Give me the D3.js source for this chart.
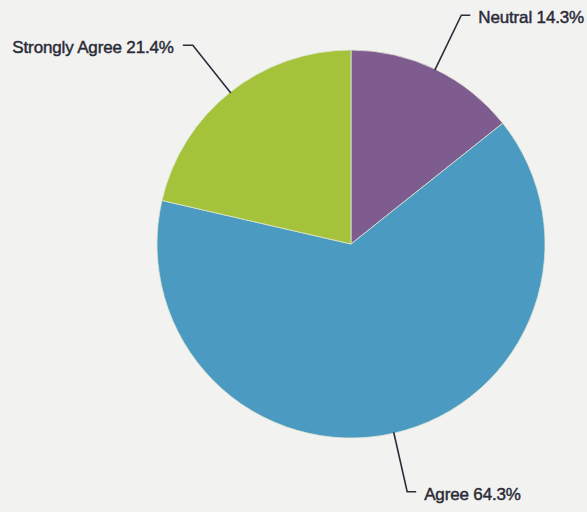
<!DOCTYPE html>
<html>
<head>
<meta charset="utf-8">
<script src="https://cdn.jsdelivr.net/npm/d3@7"></script>
<style>
html,body{margin:0;padding:0;background:#f2f2f1;}
svg{display:block;}
</style>
</head>
<body>
<svg id="chart" width="587" height="512"></svg>
<script>
const categories = ["Neutral", "Agree", "Strongly Agree"];
const values = [14.3, 64.3, 21.4];
const colors = ["#7e5c90", "#4a9ac1", "#a4c33b"];

const W = 587, H = 512, cx = 351, cy = 244, R = 194, Rlab = 254;
const svg = d3.select("#chart");
svg.append("rect").attr("width", W).attr("height", H).attr("fill", "#f2f2f1");

const data = categories.map((c, i) => ({cat: c, val: values[i], col: colors[i]}));
const pie = d3.pie().value(d => d.val).sort(null);
const arcs = pie(data);
const arc = d3.arc().innerRadius(0).outerRadius(R);

const g = svg.append("g").attr("transform", `translate(${cx},${cy})`);
g.selectAll("path.slice").data(arcs).join("path")
  .attr("class", "slice")
  .attr("d", arc)
  .attr("fill", d => d.data.col)
  .attr("stroke", "#dfe6d0")
  .attr("stroke-width", 0.8);

const mid = d => (d.startAngle + d.endAngle) / 2;
const pt = (a, r) => [r * Math.sin(a), -r * Math.cos(a)];

arcs.forEach(d => {
  const a = mid(d);
  const p0 = pt(a, R - 1);
  const p1 = pt(a, Rlab);
  const right = Math.sin(a) > 0;
  const p2 = [p1[0] + (right ? 9 : -10), p1[1]];
  g.append("polyline")
    .attr("points", [p0, p1, p2].map(p => p.join(",")).join(" "))
    .attr("fill", "none")
    .attr("stroke", "#2c2d38")
    .attr("stroke-width", 1.6);
  g.append("text")
    .attr("x", p2[0] + (right ? 8 : -9))
    .attr("y", p1[1])
    .attr("dy", 8)
    .attr("text-anchor", right ? "start" : "end")
    .attr("font-family", "Liberation Sans, Arial, sans-serif")
    .attr("font-size", 17)
    .attr("letter-spacing", -0.15)
    .attr("fill", "#2a2b36")
    .attr("stroke", "#2a2b36")
    .attr("stroke-width", 0.45)
    .text(`${d.data.cat} ${d.data.val.toFixed(1)}%`);
});
</script>
</body>
</html>
